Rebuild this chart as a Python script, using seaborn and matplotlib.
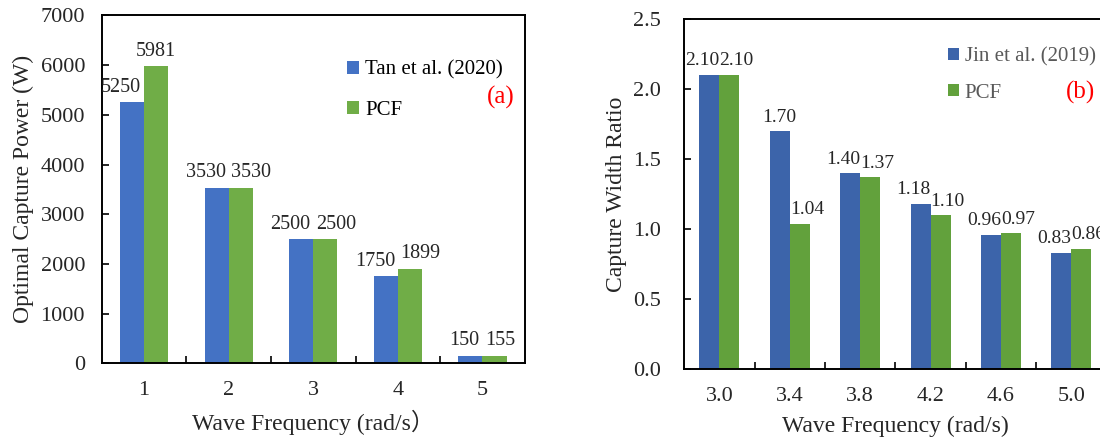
import matplotlib
matplotlib.use("Agg")
import matplotlib.pyplot as plt
from matplotlib.patches import Patch
from matplotlib.ticker import FixedLocator, MultipleLocator, FormatStrFormatter
import seaborn as sns
import pandas as pd

# Panel (a): optimal capture power vs. wave frequency
freq_a = ["1", "2", "3", "4", "5"]
tan_2020 = [5250, 3530, 2500, 1750, 150]
pcf_a = [5981, 3530, 2500, 1899, 155]

# Panel (b): capture width ratio vs. wave frequency
freq_b = ["3.0", "3.4", "3.8", "4.2", "4.6", "5.0"]
jin_2019 = [2.10, 1.70, 1.40, 1.18, 0.96, 0.83]
pcf_b = [2.10, 1.04, 1.37, 1.10, 0.97, 0.86]

series_a = ["Tan et al. (2020)", "PCF"]
series_b = ["Jin et al. (2019)", "PCF"]

sns.set_style("white")
plt.rcParams["font.family"] = ["Liberation Serif", "Noto Sans CJK SC", "DejaVu Sans"]

fig = plt.figure(figsize=(11.0, 4.42), dpi=100)
ax_a = fig.add_axes([0.0925, 0.178, 0.3845, 0.787])
ax_b = fig.add_axes([0.622, 0.1645, 0.384, 0.7925])


def long_form(cats, first, second, names):
    return pd.DataFrame({
        "freq": cats * 2,
        "value": first + second,
        "source": [names[0]] * len(cats) + [names[1]] * len(cats),
    })


def label_pairs(ax, first, second, fmt, size, gap, pad=4):
    """Value labels above each bar; a label is pushed outward when it would
    run into the neighbouring bar or the neighbouring label."""
    ax_h_px = ax.get_window_extent().height
    ymax = ax.get_ylim()[1]
    px_per_unit = ax_h_px / ymax
    text_h = size * 100 / 72 * 1.1 / px_per_unit
    pad_u = pad * 100 / 72 / px_per_unit
    left_bars, right_bars = ax.containers[0], ax.containers[1]
    for rb, rg, vb, vg in zip(left_bars, right_bars, first, second):
        labels_clash = abs(vb - vg) < text_h
        push_left = labels_clash or vg > vb + pad_u
        push_right = labels_clash or vb > vg + pad_u
        if push_left:
            ax.annotate(fmt % vb, xy=(rb.get_x() + rb.get_width(), vb),
                        xytext=(-gap, pad), textcoords="offset points",
                        ha="right", va="bottom", fontsize=size)
        else:
            ax.annotate(fmt % vb, xy=(rb.get_x() + rb.get_width() / 2, vb),
                        xytext=(0, pad), textcoords="offset points",
                        ha="center", va="bottom", fontsize=size)
        if push_right:
            ax.annotate(fmt % vg, xy=(rg.get_x(), vg),
                        xytext=(gap, pad), textcoords="offset points",
                        ha="left", va="bottom", fontsize=size)
        else:
            ax.annotate(fmt % vg, xy=(rg.get_x() + rg.get_width() / 2, vg),
                        xytext=(0, pad), textcoords="offset points",
                        ha="center", va="bottom", fontsize=size)


def draw_panel(ax, cats, first, second, names, colors, ymax, ystep, yfmt,
               lblfmt, lblsize, lblgap, ylabel, xlabel, ypad, ylabelpad,
               tag, tag_xy, legend_color, legend_anchor, handle, spacing):
    df = long_form(cats, first, second, names)
    sns.barplot(data=df, x="freq", y="value", hue="source", order=cats,
                hue_order=names, palette=colors, saturation=1, width=0.57,
                linewidth=0, legend=False, ax=ax)

    n = len(cats)
    ax.set_xlim(-0.5, n - 0.5)
    ax.set_ylim(0, ymax)
    ax.yaxis.set_major_locator(MultipleLocator(ystep))
    ax.yaxis.set_major_formatter(FormatStrFormatter(yfmt))
    ax.xaxis.set_minor_locator(FixedLocator([i + 0.5 for i in range(n - 1)]))
    ax.tick_params(axis="x", which="major", length=0, pad=13, labelsize=16)
    ax.tick_params(axis="x", which="minor", direction="in", length=5,
                   width=1.2, color="black", bottom=True)
    ax.tick_params(axis="y", which="major", direction="in", length=5,
                   width=1.2, color="black", left=True, pad=ypad, labelsize=16)
    for sp in ax.spines.values():
        sp.set_visible(True)
        sp.set_color("black")
        sp.set_linewidth(1.4)
    ax.set_xlabel(xlabel, fontsize=17, labelpad=7)
    ax.set_ylabel(ylabel, fontsize=17, labelpad=ylabelpad)

    label_pairs(ax, first, second, lblfmt, lblsize, lblgap)

    handles = [Patch(facecolor=c, edgecolor="none") for c in colors]
    leg = ax.legend(handles, names, loc="upper left",
                    bbox_to_anchor=legend_anchor, frameon=False,
                    fontsize=15, handlelength=handle, handleheight=handle,
                    handletextpad=0.3, labelspacing=spacing, borderpad=0,
                    borderaxespad=0)
    for t in leg.get_texts():
        t.set_color(legend_color)
    ax.text(tag_xy[0], tag_xy[1], tag, transform=ax.transAxes, color="red",
            fontsize=18, ha="center", va="center")


draw_panel(ax_a, freq_a, tan_2020, pcf_a, series_a,
           ["#4472C4", "#70AD47"], 7000, 1000, "%d", "%d", 14.5, 2,
           "Optimal Capture Power (W)", "Wave Frequency (rad/s）", 12, 5,
           "(a)", (0.944, 0.763), "black", (0.58, 0.87), 0.58, 1.0)

draw_panel(ax_b, freq_b, jin_2019, pcf_b, series_b,
           ["#3C64AA", "#62A13C"], 2.5, 0.5, "%.1f", "%.2f", 14, 0,
           "Capture Width Ratio", "Wave Frequency (rad/s)", 17, 4,
           "(b)", (0.939, 0.789), "#595959", (0.625, 0.92), 0.5, 0.83)

fig.savefig("out.png", dpi=100)
